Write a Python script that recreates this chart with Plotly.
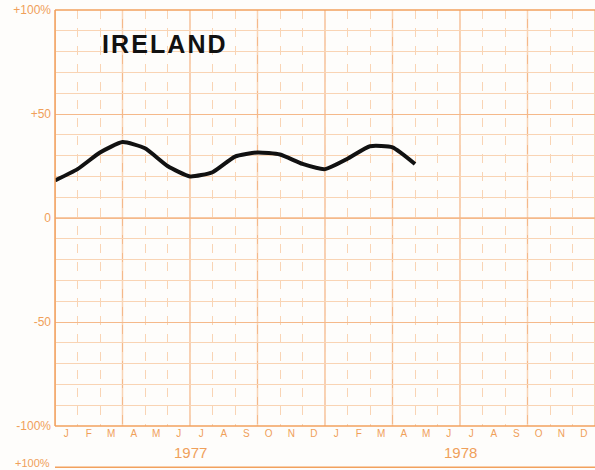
import plotly.graph_objects as go

# Data: month-start positions (0 = Jan 1977) and values (%)
month_index = list(range(17))
values = [18, 23.5, 31.5, 36.5, 33.5, 25, 20, 22, 29.5, 31.5, 30.5, 26, 23.5, 28.5, 34.5, 34, 26]
month_letters = ["J", "F", "M", "A", "M", "J", "J", "A", "S", "O", "N", "D"] * 2
years = ["1977", "1978"]
y_tickvals = [100, 50, 0, -50, -100]
y_ticktext = ["+100%", "+50", "0", "-50", "-100%"]
title_text = "IRELAND"

ORANGE = "#f2a15e"
GRID = "#f5b98a"
GRID_LIGHT = "#f9d4b4"
TEXT = "#f0a05a"
FONT = "Liberation Sans, Arial"

fig = go.Figure()
fig.add_trace(go.Scatter(
    x=month_index, y=values, mode="lines",
    line=dict(color="#111111", width=4, shape="spline", smoothing=0.5),
    hoverinfo="skip", showlegend=False,
))

n_months = len(month_letters)
shapes = []
for q in range(0, n_months + 1, 3):
    shapes.append(dict(type="line", xref="x", yref="paper", x0=q, x1=q, y0=0, y1=1,
                       line=dict(color=GRID, width=1.3), layer="below"))
shapes.append(dict(type="line", xref="paper", yref="paper", x0=0, x1=0, y0=0, y1=1,
                   line=dict(color=ORANGE, width=1.5)))
shapes.append(dict(type="line", xref="paper", yref="paper", x0=0, x1=1, y0=1, y1=1,
                   line=dict(color=ORANGE, width=1.5)))
shapes.append(dict(type="line", xref="paper", yref="paper", x0=0, x1=1, y0=0, y1=0,
                   line=dict(color=ORANGE, width=1.5)))
shapes.append(dict(type="line", xref="paper", yref="paper", x0=0, x1=1, y0=-0.099, y1=-0.099,
                   line=dict(color=ORANGE, width=1.5)))
shapes.append(dict(type="line", xref="paper", yref="y", x0=0, x1=1, y0=0, y1=0,
                   line=dict(color=GRID, width=1.5), layer="below"))

annotations = [
    dict(text="<b>" + "\u200a".join(title_text) + "</b>", xref="paper", yref="paper",
         x=0.201, y=0.918, showarrow=False,
         font=dict(family=FONT, size=25, color="#111111"),
         xanchor="center", yanchor="middle"),
]
for i, yr in enumerate(years):
    annotations.append(dict(text=yr, xref="x", yref="paper", x=6 + 12 * i, y=-0.0625,
                            showarrow=False, xanchor="center", yanchor="middle",
                            font=dict(family=FONT, size=15, color=TEXT)))
annotations.append(dict(text="+100%", xref="paper", yref="paper", x=-0.006, y=-0.088,
                        showarrow=False, xanchor="right", yanchor="middle",
                        font=dict(family=FONT, size=11, color=TEXT)))

fig.update_layout(
    width=595, height=470,
    margin=dict(l=55, r=0, t=10, b=44),
    paper_bgcolor="#fefdfb", plot_bgcolor="#fefdfb",
    shapes=shapes, annotations=annotations,
    xaxis=dict(
        range=[0, n_months], showgrid=False, zeroline=False, showline=False,
        tickvals=[i + 0.5 for i in range(n_months)], ticktext=month_letters,
        tickfont=dict(family=FONT, size=10, color=TEXT),
        ticks="", fixedrange=True, automargin=False,
        minor=dict(tickvals=list(range(n_months + 1)), showgrid=True,
                   gridcolor=GRID_LIGHT, griddash="dash", gridwidth=1),
    ),
    yaxis=dict(
        range=[-100, 100], tickvals=y_tickvals, ticktext=y_ticktext,
        showgrid=True, gridcolor=GRID, gridwidth=1, zeroline=False, showline=False,
        tickfont=dict(family=FONT, size=12, color=TEXT),
        ticks="", ticklabelstandoff=3, fixedrange=True, automargin=False,
        minor=dict(dtick=10, showgrid=True, gridcolor=GRID_LIGHT, gridwidth=1),
    ),
)

fig.write_html("out.html", config={"responsive": False, "displayModeBar": False},
               post_script="document.body.style.margin='0';document.body.style.overflow='hidden';")
